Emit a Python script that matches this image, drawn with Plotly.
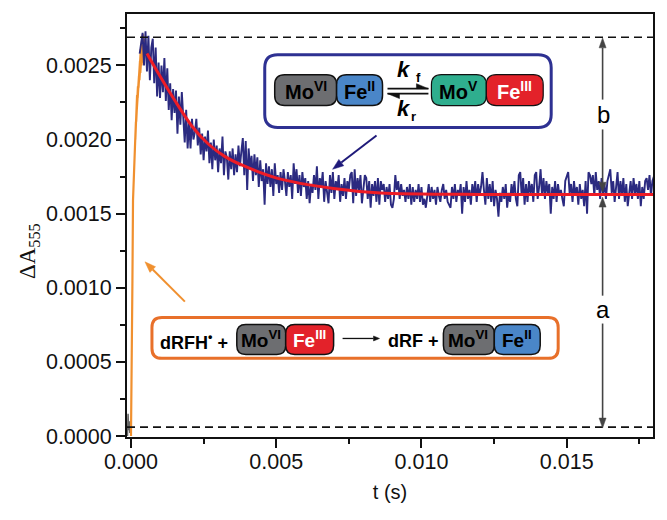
import plotly.graph_objects as go

# geometry of the frame in the 667x520 picture
FRAME_L, FRAME_R, FRAME_T, FRAME_B = 127, 654, 12, 437

# absorbance trace, sampled every 0.05 ms from 0.3 ms, in units of 1e-5
trace_start = 0.0003
trace_step = 0.00005
trace_1e5 = [
    258, 266, 272, 250, 273, 246, 270, 240, 262, 268,
    238, 262, 229, 252, 228, 250, 232, 255, 226, 248,
    220, 238, 213, 234, 218, 233, 204, 229, 210, 232,
    212, 198, 220, 194, 212, 194, 214, 200, 205, 214,
    196, 208, 190, 204, 186, 202, 192, 206, 184, 198,
    180, 200, 186, 196, 178, 194, 184, 202, 176, 192,
    188, 173, 192, 180, 194, 176, 190, 178, 196, 182,
    192, 201, 176, 199, 166, 194, 180, 189, 172, 190,
    176, 188, 168, 186, 172, 180, 156, 184, 170, 182,
    168, 180, 162, 184, 170, 176, 164, 178, 166, 180,
    172, 162, 178, 168, 176, 160, 184, 170, 180, 164,
    176, 162, 178, 168, 174, 160, 172, 157, 170, 164,
    176, 166, 182, 160, 174, 168, 178, 158, 172, 162,
    157, 176, 164, 178, 160, 172, 166, 176, 158, 170,
    162, 174, 160, 172, 166, 176, 178, 157, 180, 162,
    174, 166, 176, 157, 168, 176, 174, 160, 172, 154,
    170, 162, 172, 158, 174, 156, 172, 166, 170, 158,
    168, 160, 170, 156, 154, 160, 176, 166, 172, 160,
    170, 162, 166, 158, 168, 160, 170, 156, 168, 158,
    166, 160, 170, 158, 168, 156, 160, 154, 162, 170,
    158, 168, 160, 166, 156, 168, 162, 158, 166, 170,
    160, 166, 158, 156, 154, 168, 160, 170, 158, 166,
    162, 170, 150, 168, 158, 172, 160, 166, 156, 170,
    162, 172, 158, 170, 162, 168, 178, 166, 156, 174,
    160, 170, 158, 172, 155, 166, 160, 148, 164, 158,
    168, 160, 170, 154, 164, 158, 170, 162, 172, 160,
    155, 176, 178, 162, 174, 156, 170, 158, 172, 164,
    170, 158, 176, 178, 160, 168, 180, 162, 174, 160,
    172, 164, 170, 150, 168, 160, 172, 158, 170, 162,
    166, 160, 155, 172, 176, 178, 164, 170, 158, 172,
    162, 168, 156, 170, 160, 166, 155, 172, 150, 178,
    176, 170, 176, 162, 178, 166, 172, 160, 174, 164,
    170, 160, 172, 176, 180, 164, 172, 158, 168, 178,
    160, 172, 162, 174, 158, 170, 155, 166, 172, 160,
    174, 164, 170, 160, 172, 155, 168, 160, 172, 174,
    166, 176, 162, 172, 175,
]
trace_t = [trace_start + i * trace_step for i in range(len(trace_1e5))]
trace_a = [v * 1e-5 for v in trace_1e5]

# fast rise
rise_t = [0, 0.000017, 0.000034, 0.00005, 0.00007, 0.000086, 0.00012, 0.000137,
          0.00017, 0.00015, 0.00021, 0.00018, 0.00024, 0.0002, 0.000275, 0.00023,
          0.00031, 0.00026, 0.00034, 0.00029, 0.00038, 0.00032, 0.00041, 0.00036,
          0.00045, 0.0004, 0.00048]
rise_a = [0, 0.00024, 0.00065, 0.00105, 0.00159, 0.00172, 0.00185, 0.00195,
          0.00212, 0.002, 0.0023, 0.00212, 0.00236, 0.0022, 0.00243, 0.00228,
          0.00253, 0.00235, 0.00261, 0.0024, 0.00267, 0.00245, 0.00271, 0.0025,
          0.00268, 0.00252, 0.00262]

# pre-trigger blip
blip_t = [-0.00012, -0.0001, -0.00008, -0.00006, -0.00004]
blip_a = [0, 0.00015, 0.00004, 0.0001, 0.00002]

# red fit
fit_t = [0.00055, 0.00093, 0.00152, 0.0021, 0.00266, 0.00324, 0.00385, 0.00502,
         0.00697, 0.00859, 0.012, 0.018]
fit_a = [0.00258, 0.00245, 0.00226, 0.00209, 0.00197, 0.001885, 0.001825, 0.00174,
         0.00167, 0.00164, 0.00163, 0.00163]

level_top = 0.00269
level_bottom = 0.00006
x_range = [-0.000137, 0.01797]
y_range = [-0.0000067, 0.002847]

NAVY = "#2b2a80"
BOX_BLUE = "#2e3192"
ORANGE = "#f0902f"
BOX_ORANGE = "#e8702a"
RED = "#ee1c25"
GREY = "#6d6e71"
FE_BLUE = "#4a86c8"
GREEN = "#2fae8e"
FE_RED = "#e3222a"
ARROW_GREY = "#444444"


def px(x):
    return (x - FRAME_L) / (FRAME_R - FRAME_L)


def py(y):
    return (FRAME_B - y) / (FRAME_B - FRAME_T)


def pt(x, y):
    return f"{px(x):.5f},{py(y):.5f}"


def round_box(x0, y0, x1, y1, r, fill, line_color, width):
    path = (f"M {pt(x0 + r, y0)} L {pt(x1 - r, y0)} Q {pt(x1, y0)} {pt(x1, y0 + r)} "
            f"L {pt(x1, y1 - r)} Q {pt(x1, y1)} {pt(x1 - r, y1)} "
            f"L {pt(x0 + r, y1)} Q {pt(x0, y1)} {pt(x0, y1 - r)} "
            f"L {pt(x0, y0 + r)} Q {pt(x0, y0)} {pt(x0 + r, y0)} Z")
    return dict(type="path", xref="paper", yref="paper", path=path, fillcolor=fill,
                line=dict(color=line_color, width=width), layer="above")


def seg(x0, y0, x1, y1, color, width):
    return dict(type="line", xref="paper", yref="paper", x0=px(x0), y0=py(y0), x1=px(x1), y1=py(y1),
                line=dict(color=color, width=width), layer="above")


def poly(points, color):
    path = "M " + " L ".join(pt(x, y) for x, y in points) + " Z"
    return dict(type="path", xref="paper", yref="paper", path=path, fillcolor=color,
                line=dict(color=color, width=0.5), layer="above")


def arrow(x0, y0, x1, y1, color, width, head=11, half=4):
    dx, dy = x1 - x0, y1 - y0
    n = (dx ** 2 + dy ** 2) ** 0.5
    ux, uy = dx / n, dy / n
    bx, by = x1 - ux * head, y1 - uy * head
    return [seg(x0, y0, bx, by, color, width),
            poly([(x1, y1), (bx - uy * half, by + ux * half), (bx + uy * half, by - ux * half)], color)]


def label(x, y, text, size=17, color="black", family="Liberation Sans", angle=0):
    return dict(xref="paper", yref="paper", x=px(x), y=py(y), text=text, showarrow=False,
                xanchor="center", yanchor="middle", textangle=angle,
                font=dict(family=family, size=size, color=color))


fig = go.Figure()
fig.add_trace(go.Scatter(x=blip_t, y=blip_a, mode="lines", line=dict(color="#666666", width=1.5)))
fig.add_trace(go.Scatter(x=rise_t, y=rise_a, mode="lines", line=dict(color=ORANGE, width=2.2)))
fig.add_trace(go.Scatter(x=trace_t, y=trace_a, mode="lines", line=dict(color=NAVY, width=1.9)))
fig.add_trace(go.Scatter(x=fit_t, y=fit_a, mode="lines",
                         line=dict(color=RED, width=3, shape="spline", smoothing=0.8)))

shapes = []
for level in (level_top, level_bottom):
    shapes.append(dict(type="line", xref="paper", yref="y", x0=0, x1=1, y0=level, y1=level,
                       line=dict(color="#111111", width=1.6, dash="8px,5px")))

# upper scheme
shapes += [
    round_box(265, 53, 552, 126, 13, "white", BOX_BLUE, 3),
    round_box(275, 73, 337, 104, 10, GREY, "#111111", 1.5),
    round_box(337, 73, 383, 104, 10, FE_BLUE, "#111111", 1.5),
    round_box(432, 73, 487, 104, 10, GREEN, "#111111", 1.2),
    round_box(487, 73, 544, 104, 10, FE_RED, "#111111", 1.2),
    seg(388, 87, 429, 87, "#111111", 1.6),
    poly([(429, 87), (417, 87), (417, 82)], "#111111"),
    seg(388, 92, 429, 92, "#111111", 1.6),
    poly([(388, 92), (400, 92), (400, 97)], "#111111"),
]
shapes += arrow(377, 134, 333, 168, "#1f1a7a", 2)

# lower scheme
shapes += [
    round_box(152, 317, 559, 358, 10, "white", BOX_ORANGE, 3),
    round_box(237, 324, 286, 354, 9, GREY, "#111111", 1.5),
    round_box(286, 324, 334, 354, 9, FE_RED, "#111111", 1.5),
    round_box(444, 324, 495, 354, 9, GREY, "#111111", 1.5),
    round_box(495, 324, 541, 354, 9, FE_BLUE, "#111111", 1.5),
]
shapes += arrow(343, 338, 380, 338, "#111111", 1.3, head=6, half=2.5)
shapes += arrow(185, 301, 145, 261, ORANGE, 2)

# a and b brackets
shapes += arrow(603.5, 98, 603.5, 36, ARROW_GREY, 1.6, head=10, half=3.5)
shapes += arrow(603.5, 128, 603.5, 191, ARROW_GREY, 1.6, head=10, half=3.5)
shapes += arrow(603.5, 295, 603.5, 196, ARROW_GREY, 1.6, head=10, half=3.5)
shapes += arrow(603.5, 323, 603.5, 428, ARROW_GREY, 1.6, head=10, half=3.5)

annotations = [
    label(306, 89, "<b>Mo<sup>VI</sup></b>", 20),
    label(360, 89, "<b>Fe<sup>II</sup></b>", 20),
    label(459, 89, "<b>Mo<sup>V</sup></b>", 20),
    label(515, 89, "<b>Fe<sup>III</sup></b>", 20, "white"),
    label(405, 68, "<b><i>k</i></b>", 22),
    label(419, 76, "<b>f</b>", 13),
    label(405, 107, "<b><i>k</i></b>", 22),
    label(414, 115, "<b>r</b>", 13),
    label(194, 341, "<b>dRFH<sup>•</sup> +</b>", 18),
    label(261, 339, "<b>Mo<sup>VI</sup></b>", 19),
    label(310, 339, "<b>Fe<sup>III</sup></b>", 19, "white"),
    label(414, 341, "<b>dRF +</b>", 18),
    label(469, 339, "<b>Mo<sup>VI</sup></b>", 19),
    label(518, 339, "<b>Fe<sup>II</sup></b>", 19),
    label(604, 113, "b", 24),
    label(604, 309, "a", 24),
    label(29, 250, "ΔA<sub>555</sub>", 23, "#111111", "Liberation Serif", -90),
]

axis_style = dict(
    showgrid=False, zeroline=False, showline=True, mirror=True,
    linecolor="#111111", linewidth=2, ticks="outside", ticklen=9, tickwidth=1.5,
    tickcolor="#111111", tickfont=dict(family="Liberation Sans", size=21.5, color="#111111"),
)

fig.update_layout(
    width=667, height=520, autosize=False, showlegend=False,
    paper_bgcolor="white", plot_bgcolor="white",
    margin=dict(l=FRAME_L, r=667 - FRAME_R, t=FRAME_T, b=520 - FRAME_B, pad=0),
    shapes=shapes, annotations=annotations,
)
fig.update_xaxes(
    range=x_range, tick0=0, dtick=0.005, tickformat=".3f", ticklabelstandoff=-5,
    minor=dict(dtick=0.0025, ticks="outside", ticklen=5, tickwidth=1.5, tickcolor="#111111"),
    title=dict(text="t (s)", standoff=12, font=dict(family="Liberation Sans", size=20, color="#111111")),
    **axis_style,
)
fig.update_yaxes(
    range=y_range, tick0=0, dtick=0.0005, tickformat=".4f",
    minor=dict(dtick=0.00025, ticks="outside", ticklen=5, tickwidth=1.5, tickcolor="#111111"),
    **axis_style,
)

fig.write_html("out.html", config={"displayModeBar": False}, post_script="document.body.style.margin='0';")
